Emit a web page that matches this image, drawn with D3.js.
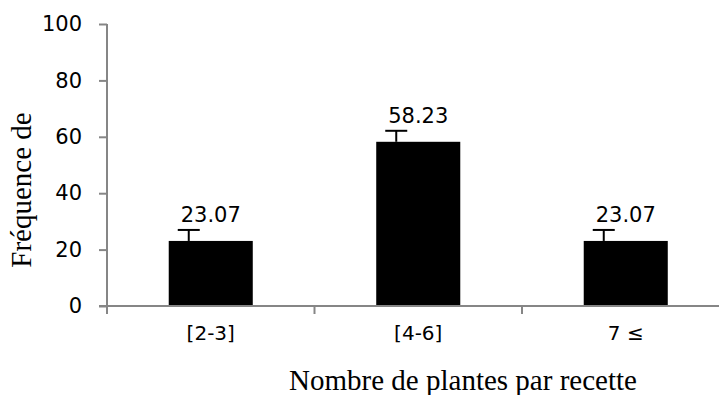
<!DOCTYPE html>
<html><head><meta charset="utf-8">
<script src="https://cdn.jsdelivr.net/npm/d3@7"></script>
<style>body{margin:0;background:#fff}svg{display:block}</style>
</head><body>
<svg id="c" width="719" height="395"></svg>
<script>
const categories = ["[2-3]", "[4-6]", "7 \u2264"];
const values = [23.07, 58.23, 23.07];
const errors = [3.9, 3.9, 3.9];
const yTicks = [0, 20, 40, 60, 80, 100];

const svg = d3.select("#c");
const x0 = 107, y0 = 306, yTop = 24, bandW = 207.5;
const x = d3.scaleBand().domain(categories).range([x0, x0 + bandW * 3]).paddingInner(0.595).paddingOuter(0.2975);
const y = d3.scaleLinear().domain([0, 100]).range([y0, yTop]);
const axisColor = "#868686";
const sans = "DejaVu Sans, sans-serif";

// bars
svg.selectAll("rect.bar").data(values).join("rect")
  .attr("x", (d, i) => x(categories[i])).attr("width", x.bandwidth())
  .attr("y", d => y(d)).attr("height", d => y(0) - y(d)).attr("fill", "#000");

// error bars (offset left as in source)
const errOff = -22;
const eb = svg.selectAll("g.err").data(values).join("g")
  .attr("transform", (d, i) => `translate(${x(categories[i]) + x.bandwidth() / 2 + errOff},0)`);
eb.append("line").attr("x1", 0).attr("x2", 0).attr("y1", d => y(d)).attr("y2", (d, i) => y(d + errors[i])).attr("stroke", "#000").attr("stroke-width", 2);
eb.append("line").attr("x1", -11).attr("x2", 11).attr("y1", (d, i) => y(d + errors[i])).attr("y2", (d, i) => y(d + errors[i])).attr("stroke", "#000").attr("stroke-width", 2);

// value labels
svg.selectAll("text.val").data(values).join("text")
  .attr("x", (d, i) => x(categories[i]) + x.bandwidth() / 2)
  .attr("y", (d, i) => y(d + errors[i]) - 8)
  .attr("text-anchor", "middle").attr("font-family", sans).attr("font-size", 21).attr("fill", "#000")
  .text(d => d.toFixed(2));

// y axis
const yAxis = d3.axisLeft(y).tickValues(yTicks).tickSize(8).tickPadding(17).tickFormat(d3.format("d"));
const gy = svg.append("g").attr("transform", `translate(${x0},0)`).call(yAxis);
gy.select(".domain").attr("stroke", axisColor).attr("stroke-width", 2).attr("d", `M0,${yTop}V${y0 + 8}`);
gy.selectAll(".tick line").attr("stroke", axisColor).attr("stroke-width", 2);
gy.selectAll(".tick text").attr("font-family", sans).attr("font-size", 21).attr("fill", "#000");

// x axis
const xEdge = d3.scaleLinear().domain([0, 3]).range([x0, x0 + bandW * 3]);
const gx = svg.append("g").attr("transform", `translate(0,${y0})`);
gx.append("line").attr("x1", x0 - 8).attr("x2", x0 + bandW * 3).attr("y1", 0).attr("y2", 0).attr("stroke", axisColor).attr("stroke-width", 2);
gx.selectAll("line.t").data([1, 2]).join("line").attr("x1", d => xEdge(d)).attr("x2", d => xEdge(d)).attr("y1", 0).attr("y2", 8).attr("stroke", axisColor).attr("stroke-width", 2);
gx.selectAll("text.cat").data(categories).join("text")
  .attr("x", d => x(d) + x.bandwidth() / 2).attr("y", 34)
  .attr("text-anchor", "middle").attr("font-family", sans).attr("font-size", 20).attr("fill", "#000").text(d => d);

// titles
svg.append("text").attr("x", 463).attr("y", 390).attr("text-anchor", "middle")
  .attr("font-family", "Liberation Serif, Times New Roman, serif").attr("font-size", 29).text("Nombre de plantes par recette");
svg.append("text").attr("transform", "translate(31,190) rotate(-90)").attr("text-anchor", "middle")
  .attr("font-family", "Liberation Serif, Times New Roman, serif").attr("font-size", 29).text("Fréquence de");
</script>
</body></html>
